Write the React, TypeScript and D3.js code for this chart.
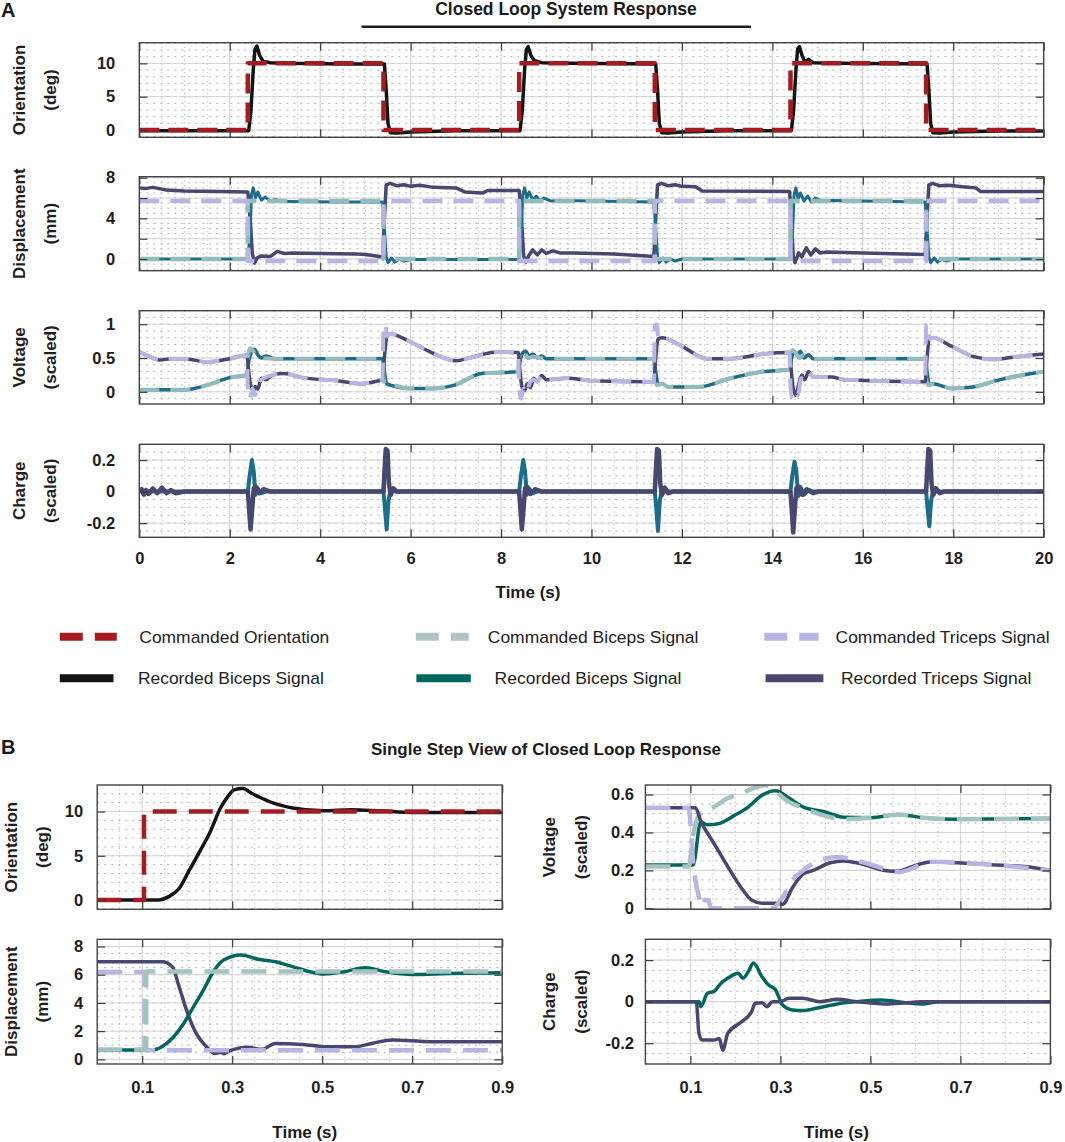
import { useEffect, useRef } from 'react';
import * as d3 from 'd3';

type Pt = [number, number];

// ---------- Panel A: closed loop response, 0-20 s ----------
const aTimeTicks = [0, 2, 4, 6, 8, 10, 12, 14, 16, 18, 20];

const aOrientCmd: Pt[] = [
  [0, 0], [2.4, 0], [2.4, 10], [5.4, 10], [5.4, 0], [8.4, 0], [8.4, 10], [11.4, 10],
  [11.4, 0], [14.4, 0], [14.4, 10], [17.4, 10], [17.4, 0], [20, 0],
];
const aOrientRec: Pt[] = [
  [0, -0.1], [2.42, -0.1], [2.47, 3], [2.52, 9], [2.56, 12.2], [2.6, 12.6], [2.66, 11.2], [2.74, 10.3],
  [2.9, 10.1], [3.2, 10], [4.5, 9.9], [5.42, 9.9], [5.46, 6], [5.5, 1], [5.55, -0.4], [5.7, -0.45],
  [6.0, -0.3], [7.0, -0.1], [8.42, -0.1], [8.47, 3], [8.52, 9], [8.56, 12.1], [8.6, 12.5], [8.66, 11.2],
  [8.74, 10.4], [8.9, 10.1], [9.5, 10], [11.42, 9.9], [11.46, 6], [11.5, 1], [11.55, -0.4], [11.7, -0.45],
  [12.0, -0.3], [13.0, -0.1], [14.42, -0.1], [14.47, 3], [14.52, 9], [14.56, 12.2], [14.6, 12.5], [14.66, 11.1],
  [14.72, 10.2], [14.8, 10.6], [14.9, 10.1], [15.5, 10], [17.42, 9.9], [17.46, 6], [17.5, 1], [17.55, -0.4],
  [17.7, -0.45], [18.0, -0.3], [19.0, -0.15], [20, -0.15],
];

const aDispCmdBiceps: Pt[] = [
  [0, 0], [2.4, 0], [2.4, 5.7], [5.4, 5.7], [5.4, 0], [8.4, 0], [8.4, 5.7], [11.4, 5.7],
  [11.4, 0], [14.4, 0], [14.4, 5.7], [17.4, 5.7], [17.4, 0], [20, 0],
];
const aDispCmdTriceps: Pt[] = [
  [0, 5.7], [2.4, 5.7], [2.4, -0.2], [5.4, -0.2], [5.4, 5.7], [8.4, 5.7], [8.4, -0.2], [11.4, -0.2],
  [11.4, 5.7], [14.4, 5.7], [14.4, -0.2], [17.4, -0.2], [17.4, 5.7], [20, 5.7],
];
const aDispRecBiceps: Pt[] = [
  [0, 0], [2.4, 0], [2.44, 2], [2.48, 6.3], [2.52, 7.0], [2.57, 6.0], [2.62, 6.6], [2.7, 5.8],
  [2.78, 6.1], [2.9, 5.7], [3.0, 5.85], [3.2, 5.65], [4.5, 5.6], [5.38, 5.6], [5.42, 3], [5.46, 0.2],
  [5.5, -0.35], [5.58, 0.1], [5.65, -0.3], [5.75, 0], [5.85, -0.2], [6.0, -0.05], [8.4, -0.05], [8.44, 2],
  [8.48, 6.3], [8.52, 7.0], [8.57, 6.0], [8.62, 6.6], [8.7, 5.8], [8.78, 6.2], [8.86, 5.7], [8.95, 6.0],
  [9.1, 5.7], [9.3, 5.75], [11.38, 5.6], [11.42, 3], [11.46, 0.2], [11.5, -0.35], [11.58, 0.1], [11.65, -0.3],
  [11.75, 0], [11.85, -0.2], [12.0, 0], [14.4, 0], [14.44, 2], [14.48, 6.3], [14.52, 7.0], [14.57, 5.9],
  [14.62, 6.5], [14.7, 5.7], [14.78, 6.2], [14.86, 5.6], [14.95, 6.0], [15.1, 5.7], [15.3, 5.75], [17.38, 5.6],
  [17.42, 3], [17.46, 0.2], [17.5, -0.35], [17.58, 0.1], [17.65, -0.3], [17.75, 0], [17.85, -0.2], [18.0, 0],
  [20, 0],
];
const aDispRecTriceps: Pt[] = [
  [0, 7.0], [0.15, 6.95], [0.3, 7.05], [0.6, 6.8], [1.0, 6.7], [1.8, 6.65], [2.4, 6.6], [2.45, 4],
  [2.5, 0.5], [2.55, -0.4], [2.6, 0.1], [2.7, 0.3], [2.9, 0.25], [3.05, 0.75], [3.2, 0.55], [3.4, 0.6],
  [4.0, 0.55], [4.8, 0.5], [5.0, 0.45], [5.38, 0.2], [5.42, 4], [5.46, 7.3], [5.55, 7.45], [5.7, 7.2],
  [5.85, 7.3], [6.0, 7.15], [6.2, 7.25], [6.5, 7.05], [7.0, 7.0], [7.2, 6.6], [7.6, 6.5], [7.7, 6.75],
  [8.4, 6.75], [8.45, 4], [8.5, 0.3], [8.55, -0.3], [8.62, 0.4], [8.7, 0.9], [8.8, 0.4], [8.9, 0.9],
  [9.0, 0.55], [9.15, 0.8], [9.3, 0.6], [9.6, 0.6], [10.5, 0.5], [11.38, 0.25], [11.42, 4], [11.46, 7.3],
  [11.55, 7.45], [11.7, 7.2], [11.85, 7.3], [12.0, 7.15], [12.3, 7.1], [12.45, 6.7], [14.38, 6.65], [14.42, 4],
  [14.46, 0.3], [14.5, -0.35], [14.58, 0.6], [14.65, 0.2], [14.75, 1.1], [14.85, 0.4], [14.95, 1.0], [15.05, 0.6],
  [15.2, 0.7], [16.0, 0.6], [17.38, 0.45], [17.42, 4], [17.46, 7.3], [17.55, 7.45], [17.7, 7.2], [17.9, 7.25],
  [18.2, 7.1], [18.5, 7.0], [18.6, 6.65], [20, 6.65],
];

const aVoltCmdBiceps: Pt[] = [
  [0, 0.03], [1.0, 0.03], [1.5, 0.1], [2.0, 0.21], [2.38, 0.25], [2.4, 0.5], [2.45, 0.65], [2.52, 0.6],
  [2.6, 0.52], [2.7, 0.5], [3.0, 0.49], [5.38, 0.49], [5.4, 0.2], [5.45, 0.1], [5.55, 0.1], [5.97, 0.05],
  [6.5, 0.05], [6.97, 0.1], [7.57, 0.27], [8.38, 0.3], [8.4, 0.5], [8.45, 0.62], [8.52, 0.58], [8.6, 0.5],
  [8.7, 0.52], [9.0, 0.49], [11.38, 0.49], [11.4, 0.2], [11.45, 0.1], [11.56, 0.12], [11.7, 0.07], [12.35, 0.07],
  [13.07, 0.2], [13.8, 0.3], [14.38, 0.33], [14.4, 0.5], [14.45, 0.62], [14.52, 0.57], [14.6, 0.5], [14.7, 0.55],
  [14.9, 0.49], [17.38, 0.49], [17.4, 0.2], [17.45, 0.1], [17.55, 0.12], [17.97, 0.05], [18.44, 0.07], [18.97, 0.17],
  [20, 0.3],
];
const aVoltRecBiceps: Pt[] = [
  [0, 0.03], [1.0, 0.03], [1.5, 0.1], [2.0, 0.21], [2.38, 0.25], [2.42, 0.45], [2.48, 0.58], [2.55, 0.63],
  [2.62, 0.55], [2.7, 0.5], [2.8, 0.53], [3.0, 0.49], [5.38, 0.49], [5.42, 0.3], [5.47, 0.12], [5.55, 0.1],
  [5.97, 0.05], [6.5, 0.05], [6.97, 0.1], [7.57, 0.27], [8.38, 0.3], [8.42, 0.45], [8.48, 0.58], [8.55, 0.6],
  [8.62, 0.52], [8.7, 0.56], [8.8, 0.5], [8.9, 0.53], [9.0, 0.49], [11.38, 0.49], [11.42, 0.3], [11.47, 0.12],
  [11.56, 0.12], [11.7, 0.07], [12.35, 0.07], [13.07, 0.2], [13.8, 0.3], [14.38, 0.33], [14.42, 0.48], [14.48, 0.6],
  [14.55, 0.55], [14.62, 0.6], [14.7, 0.5], [14.8, 0.55], [14.9, 0.49], [17.38, 0.49], [17.42, 0.3], [17.47, 0.12],
  [17.55, 0.12], [17.97, 0.05], [18.44, 0.07], [18.97, 0.17], [20, 0.3],
];
const aVoltCmdTriceps: Pt[] = [
  [0, 0.59], [0.2, 0.53], [0.45, 0.47], [0.7, 0.49], [1.0, 0.49], [1.5, 0.44], [2.0, 0.49], [2.38, 0.54],
  [2.4, 0.1], [2.44, -0.1], [2.5, 0.05], [2.56, -0.05], [2.64, 0.15], [2.75, 0.2], [2.95, 0.25], [3.2, 0.27],
  [3.6, 0.21], [4.3, 0.17], [4.9, 0.12], [5.2, 0.15], [5.38, 0.18], [5.4, 0.98], [5.44, 1.0], [5.48, 0.82],
  [5.55, 0.86], [5.9, 0.77], [6.5, 0.57], [7.0, 0.46], [7.4, 0.52], [7.9, 0.59], [8.38, 0.58], [8.4, 0.1],
  [8.44, -0.1], [8.5, 0.05], [8.56, -0.02], [8.64, 0.14], [8.72, 0.18], [8.8, 0.15], [8.9, 0.24], [9.0, 0.18],
  [9.45, 0.2], [10.1, 0.16], [11.38, 0.15], [11.4, 0.98], [11.44, 1.0], [11.48, 0.78], [11.56, 0.8], [11.96, 0.69],
  [12.55, 0.49], [13.07, 0.49], [13.8, 0.56], [14.38, 0.58], [14.4, 0.1], [14.44, -0.1], [14.5, 0.0], [14.56, -0.05],
  [14.64, 0.2], [14.72, 0.18], [14.8, 0.28], [14.9, 0.22], [15.3, 0.22], [15.6, 0.18], [17.38, 0.15], [17.4, 0.98],
  [17.44, 1.0], [17.48, 0.78], [17.55, 0.8], [17.97, 0.67], [18.45, 0.52], [18.9, 0.48], [19.4, 0.52], [20, 0.56],
];
const aVoltRecTriceps: Pt[] = [
  [0, 0.59], [0.2, 0.53], [0.45, 0.47], [0.7, 0.49], [1.0, 0.49], [1.5, 0.44], [2.0, 0.49], [2.38, 0.54],
  [2.42, 0.3], [2.46, 0.1], [2.52, 0.0], [2.56, 0.08], [2.62, 0.04], [2.7, 0.2], [2.8, 0.18], [2.95, 0.25],
  [3.2, 0.27], [3.6, 0.21], [4.3, 0.17], [4.9, 0.12], [5.2, 0.15], [5.38, 0.18], [5.42, 0.5], [5.47, 0.8],
  [5.55, 0.86], [5.9, 0.77], [6.5, 0.57], [7.0, 0.46], [7.4, 0.52], [7.9, 0.59], [8.38, 0.58], [8.42, 0.3],
  [8.46, 0.08], [8.52, 0.02], [8.58, 0.12], [8.65, 0.06], [8.72, 0.2], [8.8, 0.15], [8.9, 0.24], [9.0, 0.18],
  [9.45, 0.2], [10.1, 0.16], [11.38, 0.15], [11.42, 0.5], [11.47, 0.78], [11.56, 0.8], [11.96, 0.69], [12.55, 0.49],
  [13.07, 0.49], [13.8, 0.56], [14.38, 0.58], [14.42, 0.3], [14.46, 0.05], [14.52, -0.05], [14.58, 0.1], [14.65, 0.25],
  [14.72, 0.18], [14.8, 0.3], [14.9, 0.22], [15.3, 0.22], [15.6, 0.18], [17.38, 0.15], [17.42, 0.5], [17.47, 0.78],
  [17.55, 0.8], [17.97, 0.67], [18.45, 0.52], [18.9, 0.48], [19.4, 0.52], [20, 0.56],
];

const aChargeBiceps: Pt[] = [
  [0, 0], [2.4, 0], [2.44, 0.1], [2.49, 0.2], [2.53, 0.13], [2.57, -0.02], [2.62, 0.02], [2.7, -0.01],
  [2.8, 0], [5.4, 0], [5.43, -0.1], [5.47, -0.24], [5.51, -0.06], [5.56, 0.02], [5.65, 0], [8.4, 0],
  [8.44, 0.1], [8.49, 0.2], [8.53, 0.13], [8.57, -0.02], [8.62, 0.02], [8.7, -0.01], [8.8, 0], [11.4, 0],
  [11.43, -0.1], [11.47, -0.25], [11.51, -0.06], [11.56, 0.02], [11.65, 0], [14.4, 0], [14.44, 0.1], [14.49, 0.19],
  [14.53, 0.13], [14.57, -0.03], [14.62, 0.03], [14.7, -0.02], [14.8, 0.01], [14.9, 0], [17.4, 0], [17.43, -0.1],
  [17.47, -0.22], [17.51, -0.06], [17.56, 0.02], [17.65, 0], [20, 0],
];
const aChargeTriceps: Pt[] = [
  [0, 0], [0.05, 0.015], [0.1, -0.02], [0.15, 0.01], [0.2, -0.015], [0.3, 0.02], [0.4, -0.01], [0.5, 0.025],
  [0.6, -0.01], [0.7, 0.01], [0.8, -0.01], [1.0, 0], [2.4, 0], [2.43, -0.12], [2.46, -0.24], [2.5, -0.1],
  [2.53, 0.02], [2.58, 0.03], [2.65, -0.01], [2.75, 0.015], [2.9, 0], [5.4, 0], [5.42, 0.12], [5.45, 0.27],
  [5.49, 0.26], [5.52, 0.05], [5.56, -0.02], [5.62, 0.02], [5.7, 0], [8.4, 0], [8.43, -0.12], [8.46, -0.24],
  [8.5, -0.1], [8.53, 0.02], [8.58, 0.03], [8.65, -0.015], [8.75, 0.015], [8.9, 0], [11.4, 0], [11.42, 0.12],
  [11.45, 0.27], [11.49, 0.26], [11.52, 0.05], [11.56, -0.02], [11.62, 0.025], [11.7, -0.01], [11.8, 0], [14.4, 0],
  [14.43, -0.12], [14.46, -0.26], [14.5, -0.1], [14.53, 0.02], [14.58, 0.03], [14.66, -0.02], [14.76, 0.015], [14.9, -0.01],
  [15.0, 0], [17.4, 0], [17.42, 0.12], [17.45, 0.27], [17.49, 0.26], [17.52, 0.05], [17.56, -0.02], [17.62, 0.02],
  [17.7, -0.01], [17.8, 0], [20, 0],
];

// ---------- Panel B: single step view, 0-0.9 s ----------
const bTimeTicks = [0.1, 0.3, 0.5, 0.7, 0.9];

const bOrientCmd: Pt[] = [[0, 0], [0.104, 0], [0.104, 10], [0.9, 10]];
const bOrientRec: Pt[] = [
  [0, 0], [0.136, 0], [0.159, 0.38], [0.182, 1.3], [0.205, 3.4], [0.228, 5.5], [0.251, 7.7], [0.274, 10.4],
  [0.289, 11.6], [0.304, 12.45], [0.324, 12.6], [0.343, 12.07], [0.366, 11.5], [0.392, 10.94], [0.434, 10.4],
  [0.503, 10.08], [0.564, 10.2], [0.626, 10.08], [0.702, 9.9], [0.9, 9.9],
];

const bDispCmdTriceps: Pt[] = [[0, 6.2], [0.105, 6.2], [0.105, 0.65], [0.9, 0.65]];
const bDispCmdBiceps: Pt[] = [[0, 0.7], [0.109, 0.7], [0.109, 6.22], [0.9, 6.22]];
const bDispRecTriceps: Pt[] = [
  [0, 6.92], [0.144, 6.92], [0.167, 6.57], [0.182, 5.15], [0.201, 3.26], [0.22, 1.84], [0.243, 0.89], [0.262, 0.42],
  [0.275, 0.5], [0.281, 0.4], [0.29, 0.55], [0.304, 0.71], [0.335, 0.85], [0.366, 0.71], [0.396, 1.13], [0.457, 1.06],
  [0.511, 0.89], [0.572, 0.89], [0.61, 1.13], [0.656, 1.37], [0.74, 1.25], [0.9, 1.25],
];
const bDispRecBiceps: Pt[] = [
  [0, 0.66], [0.121, 0.66], [0.144, 0.9], [0.167, 1.49], [0.19, 2.43], [0.212, 3.62], [0.236, 4.91], [0.258, 6.21],
  [0.281, 7.04], [0.32, 7.4], [0.358, 7.09], [0.396, 6.92], [0.434, 6.57], [0.473, 6.21], [0.503, 6.05], [0.549, 6.21],
  [0.595, 6.5], [0.641, 6.21], [0.702, 6.02], [0.779, 6.09], [0.9, 6.14],
];

const bVoltCmdBiceps: Pt[] = [
  [0, 0.22], [0.096, 0.22], [0.107, 0.395], [0.119, 0.49], [0.153, 0.535], [0.183, 0.58], [0.214, 0.605], [0.244, 0.637],
  [0.267, 0.649], [0.289, 0.615], [0.32, 0.56], [0.35, 0.53], [0.396, 0.49], [0.441, 0.47], [0.502, 0.478], [0.562, 0.495],
  [0.616, 0.478], [0.691, 0.47], [0.9, 0.473],
];
const bVoltRecBiceps: Pt[] = [
  [0, 0.228], [0.106, 0.228], [0.123, 0.456], [0.138, 0.44], [0.16, 0.445], [0.198, 0.49], [0.229, 0.535], [0.259, 0.596],
  [0.289, 0.62], [0.32, 0.58], [0.35, 0.535], [0.396, 0.51], [0.441, 0.48], [0.502, 0.478], [0.562, 0.495], [0.616, 0.478],
  [0.691, 0.47], [0.9, 0.473],
];
const bVoltCmdTriceps: Pt[] = [
  [0, 0.53], [0.096, 0.53], [0.107, 0.22], [0.119, 0.06], [0.128, 0.01], [0.133, 0.045], [0.14, 0.04], [0.146, 0.0],
  [0.282, 0.0], [0.305, 0.06], [0.327, 0.15], [0.35, 0.2], [0.396, 0.26], [0.426, 0.27], [0.502, 0.23], [0.562, 0.19],
  [0.638, 0.245], [0.767, 0.23], [0.9, 0.2],
];
const bVoltRecTriceps: Pt[] = [
  [0, 0.53], [0.111, 0.53], [0.123, 0.46], [0.153, 0.34], [0.183, 0.22], [0.214, 0.105], [0.236, 0.044], [0.259, 0.027],
  [0.289, 0.027], [0.305, 0.022], [0.327, 0.11], [0.35, 0.18], [0.373, 0.2], [0.411, 0.24], [0.441, 0.25], [0.487, 0.23],
  [0.532, 0.2], [0.562, 0.195], [0.592, 0.22], [0.638, 0.245], [0.691, 0.24], [0.767, 0.23], [0.843, 0.22], [0.9, 0.2],
];

const bChargeBiceps: Pt[] = [
  [0, 0], [0.119, 0], [0.123, -0.024], [0.138, 0.04], [0.153, 0.05], [0.168, 0.089], [0.183, 0.113], [0.206, 0.137],
  [0.217, 0.113], [0.229, 0.145], [0.24, 0.186], [0.259, 0.12], [0.274, 0.08], [0.289, 0.057], [0.305, -0.016],
  [0.327, -0.04], [0.35, -0.043], [0.38, -0.032], [0.426, -0.011], [0.471, 0], [0.524, 0.008], [0.578, -0.005],
  [0.616, -0.011], [0.653, 0], [0.9, 0],
];
const bChargeTriceps: Pt[] = [
  [0, 0], [0.113, 0], [0.119, -0.153], [0.126, -0.185], [0.153, -0.185], [0.164, -0.177], [0.172, -0.234], [0.183, -0.153],
  [0.214, -0.097], [0.236, -0.048], [0.244, -0.008], [0.259, -0.005], [0.27, -0.024], [0.282, 0], [0.298, 0], [0.32, 0.016],
  [0.35, 0.016], [0.388, 0], [0.426, 0.011], [0.471, 0], [0.54, -0.011], [0.616, 0], [0.9, 0],
];

const legendLabels = [
  ['Commanded Orientation', 'Commanded Biceps Signal', 'Commanded Triceps Signal'],
  ['Recorded Biceps Signal', 'Recorded Biceps Signal', 'Recorded Triceps Signal'],
];

// ---------- styling ----------
const FONT = "'Liberation Sans', Arial, Helvetica, sans-serif";
const C = {
  red: '#a51b20',
  black: '#141414',
  teal: '#00675f',
  blueTeal: '#1c6c8c',
  cmdBic: '#94bbbb',
  cmdBicB: '#a4c3c0',
  cmdBicLegend: '#b0c6c6',
  cmdTri: '#b7b6e3',
  tri: '#47476f',
};

interface Series { data: Pt[]; color: string; width: number; dash?: string; smooth?: boolean }
interface Panel {
  left: number; right: number; top: number; bottom: number;
  xDomain: [number, number]; yDomain: [number, number];
  xTicks: number[]; xMinor: number; yTicks: number[]; yLabels?: number[]; yMinor: number;
  xLabels: boolean; yPad: number; xPad: number;
  title: [string, string]; titleX: [number, number];
  series: Series[];
}

function drawPanel(svg: d3.Selection<SVGSVGElement, unknown, null, undefined>, p: Panel, idx: number) {
  const x = d3.scaleLinear().domain(p.xDomain).range([p.left, p.right]);
  const y = d3.scaleLinear().domain(p.yDomain).range([p.bottom, p.top]);
  const g = svg.append('g');
  const clipId = `clip-${idx}`;
  g.append('clipPath').attr('id', clipId).append('rect')
    .attr('x', p.left).attr('y', p.top)
    .attr('width', p.right - p.left).attr('height', p.bottom - p.top);

  const steps = (lo: number, hi: number, s: number) =>
    d3.range(Math.ceil(lo / s - 1e-6), Math.floor(hi / s + 1e-6) + 1).map(k => k * s);

  // minor dotted grid
  const grid = g.append('g').attr('clip-path', `url(#${clipId})`);
  grid.selectAll('line.xm').data(steps(p.xDomain[0], p.xDomain[1], p.xMinor)).join('line')
    .attr('x1', d => x(d)).attr('x2', d => x(d)).attr('y1', p.top).attr('y2', p.bottom)
    .attr('stroke', '#9c9c9c').attr('stroke-width', 0.8).attr('stroke-dasharray', '1,3.2');
  grid.selectAll('line.ym').data(steps(p.yDomain[0], p.yDomain[1], p.yMinor)).join('line')
    .attr('y1', d => y(d)).attr('y2', d => y(d)).attr('x1', p.left).attr('x2', p.right)
    .attr('stroke', '#9c9c9c').attr('stroke-width', 0.8).attr('stroke-dasharray', '2,5');
  // major grid
  grid.selectAll('line.xM').data(p.xTicks).join('line')
    .attr('x1', d => x(d)).attr('x2', d => x(d)).attr('y1', p.top).attr('y2', p.bottom)
    .attr('stroke', '#d4d4d4').attr('stroke-width', 1);
  grid.selectAll('line.yM').data(p.yTicks).join('line')
    .attr('y1', d => y(d)).attr('y2', d => y(d)).attr('x1', p.left).attr('x2', p.right)
    .attr('stroke', '#d4d4d4').attr('stroke-width', 1);

  // series
  const plot = g.append('g').attr('clip-path', `url(#${clipId})`);
  p.series.forEach(s => {
    const line = d3.line<Pt>()
      .x(d => x(d[0])).y(d => y(d[1]))
      .curve(s.smooth ? d3.curveMonotoneX : d3.curveLinear);
    plot.append('path').datum(s.data)
      .attr('d', line)
      .attr('fill', 'none')
      .attr('stroke', s.color)
      .attr('stroke-width', s.width)
      .attr('stroke-linejoin', 'round')
      .attr('stroke-dasharray', s.dash ?? null);
  });

  const styleAxis = (a: d3.Selection<SVGGElement, unknown, null, undefined>) => {
    a.select('.domain').remove();
    a.attr('font-family', FONT).attr('font-size', 16.5).attr('font-weight', 'bold').attr('color', '#3a3a3a');
    a.selectAll('.tick line').attr('stroke-width', 1.2);
    a.selectAll('.tick text').attr('fill', '#1e1e1e');
  };
  const yl = p.yLabels ?? p.yTicks;
  const yFmt = (d: d3.NumberValue) => (yl.includes(+d) ? String(+d) : '');

  g.append('g').attr('transform', `translate(${p.left},0)`)
    .call(d3.axisLeft(y).tickValues(p.yTicks).tickSize(-8).tickPadding(p.yPad).tickFormat(yFmt))
    .call(styleAxis);
  g.append('g').attr('transform', `translate(${p.right},0)`)
    .call(d3.axisRight(y).tickValues(p.yTicks).tickSize(-8).tickFormat(() => ''))
    .call(styleAxis);
  g.append('g').attr('transform', `translate(0,${p.top})`)
    .call(d3.axisTop(x).tickValues(p.xTicks).tickSize(-8).tickFormat(() => ''))
    .call(styleAxis);
  g.append('g').attr('transform', `translate(0,${p.bottom})`)
    .call(d3.axisBottom(x).tickValues(p.xTicks).tickSize(-8).tickPadding(p.xPad)
      .tickFormat(d => (p.xLabels ? String(+d) : '')))
    .call(styleAxis);

  g.append('rect')
    .attr('x', p.left).attr('y', p.top)
    .attr('width', p.right - p.left).attr('height', p.bottom - p.top)
    .attr('fill', 'none').attr('stroke', '#444').attr('stroke-width', 1.4);

  const cy = (p.top + p.bottom) / 2;
  p.title.forEach((t, i) => {
    g.append('text')
      .attr('transform', `translate(${p.titleX[i]},${cy}) rotate(-90)`)
      .attr('text-anchor', 'middle').attr('dy', '0.35em')
      .attr('font-family', FONT).attr('font-size', 17).attr('font-weight', 'bold')
      .attr('fill', '#1e1e1e')
      .text(t);
  });
}

export default function App() {
  const ref = useRef<SVGSVGElement>(null);

  useEffect(() => {
    if (!ref.current) return;
    const svg = d3.select(ref.current);
    svg.selectAll('*').remove();

    svg.append('rect').attr('width', 1065).attr('height', 1142).attr('fill', '#fff');

    const aCommon = {
      left: 139.3, right: 1043.7, xDomain: [0, 20] as [number, number], xTicks: aTimeTicks, xMinor: 0.5,
      yPad: 24, xPad: 15, titleX: [19, 50] as [number, number],
    };
    const bLeft = {
      left: 97.2, right: 502.2, xDomain: [0, 0.9] as [number, number], xTicks: bTimeTicks, xMinor: 0.05,
      yPad: 14, xPad: 17, titleX: [11, 42] as [number, number],
    };
    const bRight = { ...bLeft, left: 645.4, right: 1050.4, yPad: 11.5, titleX: [549, 581] as [number, number] };

    const cmdDashA = '20,11';
    const cmdDashB = '25,12';

    const panels: Panel[] = [
      {
        ...aCommon, top: 42.7, bottom: 137.3, yDomain: [-1.1, 13.1], yTicks: [0, 5, 10], yMinor: 1, xLabels: false,
        title: ['Orientation', '(deg)'],
        series: [
          { data: aOrientRec, color: C.black, width: 3.5 },
          { data: aOrientCmd, color: C.red, width: 4.5, dash: '20,9' },
        ],
      },
      {
        ...aCommon, top: 176.7, bottom: 270.7, yDomain: [-1.15, 8.1], yTicks: [0, 2, 4, 6, 8], yLabels: [0, 4, 8],
        yMinor: 0.5, xLabels: false, title: ['Displacement', '(mm)'],
        series: [
          { data: aDispRecTriceps, color: C.tri, width: 3.5 },
          { data: aDispRecBiceps, color: C.blueTeal, width: 3 },
          { data: aDispCmdBiceps, color: C.cmdBic, width: 4.5, dash: cmdDashA },
          { data: aDispCmdTriceps, color: C.cmdTri, width: 4.5, dash: cmdDashA },
        ],
      },
      {
        ...aCommon, top: 310.7, bottom: 404, yDomain: [-0.18, 1.2], yTicks: [0, 0.5, 1], yMinor: 0.1, xLabels: false,
        title: ['Voltage', '(scaled)'],
        series: [
          { data: aVoltRecBiceps, color: C.blueTeal, width: 3.5, smooth: true },
          { data: aVoltCmdBiceps, color: C.cmdBic, width: 4, dash: cmdDashA, smooth: true },
          { data: aVoltRecTriceps, color: C.tri, width: 3.5, smooth: true },
          { data: aVoltCmdTriceps, color: C.cmdTri, width: 4, dash: cmdDashA, smooth: true },
        ],
      },
      {
        ...aCommon, top: 444.3, bottom: 537.3, yDomain: [-0.29, 0.3], yTicks: [-0.2, 0, 0.2], yMinor: 0.05, xLabels: true,
        title: ['Charge', '(scaled)'],
        series: [
          { data: aChargeBiceps, color: C.blueTeal, width: 4 },
          { data: aChargeTriceps, color: C.tri, width: 4.5 },
        ],
      },
      {
        ...bLeft, top: 785, bottom: 909.3, yDomain: [-1.05, 13], yTicks: [0, 5, 10], yMinor: 1, xLabels: false,
        title: ['Orientation', '(deg)'],
        series: [
          { data: bOrientRec, color: C.black, width: 3.5, smooth: true },
          { data: bOrientCmd, color: C.red, width: 4.5, dash: '24,12' },
        ],
      },
      {
        ...bLeft, top: 939.3, bottom: 1064, yDomain: [-0.33, 8.51], yTicks: [0, 2, 4, 6, 8], yMinor: 0.5, xLabels: true,
        title: ['Displacement', '(mm)'],
        series: [
          { data: bDispRecTriceps, color: C.tri, width: 3.5, smooth: true },
          { data: bDispRecBiceps, color: C.teal, width: 3.5, smooth: true },
          { data: bDispCmdTriceps, color: C.cmdTri, width: 4.5, dash: cmdDashB },
          { data: bDispCmdBiceps, color: C.cmdBicB, width: 4.5, dash: cmdDashB },
        ],
      },
      {
        ...bRight, top: 785, bottom: 909.3, yDomain: [-0.005, 0.65], yTicks: [0, 0.2, 0.4, 0.6], yMinor: 0.05, xLabels: false,
        title: ['Voltage', '(scaled)'],
        series: [
          { data: bVoltRecBiceps, color: C.teal, width: 3.5, smooth: true },
          { data: bVoltCmdBiceps, color: C.cmdBicB, width: 4.5, dash: cmdDashB, smooth: true },
          { data: bVoltRecTriceps, color: C.tri, width: 3.5, smooth: true },
          { data: bVoltCmdTriceps, color: C.cmdTri, width: 4.5, dash: cmdDashB, smooth: true },
        ],
      },
      {
        ...bRight, top: 939.3, bottom: 1064, yDomain: [-0.3, 0.3], yTicks: [-0.2, 0, 0.2], yMinor: 0.05, xLabels: true,
        title: ['Charge', '(scaled)'],
        series: [
          { data: bChargeBiceps, color: C.teal, width: 3.5, smooth: true },
          { data: bChargeTriceps, color: C.tri, width: 3.5, smooth: true },
        ],
      },
    ];

    panels.forEach((p, i) => drawPanel(svg, p, i));

    const text = (x: number, y: number, s: string, size: number, weight = 'bold', anchor = 'middle') =>
      svg.append('text')
        .attr('x', x).attr('y', y).attr('dy', '0.35em')
        .attr('text-anchor', anchor)
        .attr('font-family', FONT).attr('font-size', size).attr('font-weight', weight)
        .attr('fill', '#1a1a1a')
        .text(s);

    // panel letters & titles
    text(1, 10, 'A', 20, 'bold', 'start');
    text(566, 8.5, 'Closed Loop System Response', 17.5);
    svg.append('line').attr('x1', 361.6).attr('x2', 751).attr('y1', 26.7).attr('y2', 26.7)
      .attr('stroke', '#1e1e1e').attr('stroke-width', 2.6);
    text(528, 591.7, 'Time (s)', 17);

    text(1, 746.7, 'B', 20, 'bold', 'start');
    text(546, 749.3, 'Single Step View of Closed Loop Response', 17);
    text(304.8, 1131.7, 'Time (s)', 17);
    text(836.5, 1131.7, 'Time (s)', 17);

    // legend
    const legendRows = [636.7, 678.3];
    const legendLine = [[[59.8, 116.8], [415.8, 468.8], [764.3, 818.6]], [[59.8, 113.5], [416.4, 470.8], [765.6, 823.4]]];
    const legendText = [[[139.3, 190], [487.8, 210.6], [835.6, 214]], [[137.9, 186], [494.6, 186.8], [841, 190.3]]];
    const legendStyle = [
      [{ c: C.red, dash: '23,12' }, { c: C.cmdBicLegend, dash: '23,12' }, { c: C.cmdTri, dash: '23,12' }],
      [{ c: C.black, dash: '' }, { c: C.teal, dash: '' }, { c: C.tri, dash: '' }],
    ];
    legendLabels.forEach((row, r) => {
      row.forEach((label, k) => {
        const [x1, x2] = legendLine[r][k];
        svg.append('line')
          .attr('x1', x1).attr('x2', x2).attr('y1', legendRows[r]).attr('y2', legendRows[r])
          .attr('stroke', legendStyle[r][k].c).attr('stroke-width', 8)
          .attr('stroke-dasharray', legendStyle[r][k].dash || null);
        const [tx, tw] = legendText[r][k];
        text(tx, legendRows[r], label, 17, 'normal', 'start')
          .attr('textLength', tw).attr('lengthAdjust', 'spacingAndGlyphs')
          .attr('fill', '#222');
      });
    });
  }, []);

  return (
    <svg
      ref={ref}
      width={1065}
      height={1142}
      style={{ position: 'absolute', left: 0, top: 0, display: 'block' }}
    />
  );
}
